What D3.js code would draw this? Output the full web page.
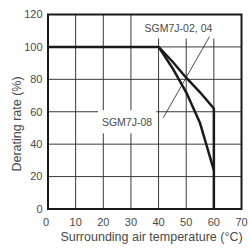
<!DOCTYPE html>
<html>
<head>
<meta charset="utf-8">
<script src="https://cdn.jsdelivr.net/npm/d3@7"></script>
<style>
  body { margin: 0; background: #fff; }
  text { font-family: "Liberation Sans", Arial, sans-serif; fill: #4a4a4a; }
</style>
</head>
<body>
<svg id="chart" width="249" height="250"></svg>
<script>
var tempTicks = [0, 10, 20, 30, 40, 50, 60, 70],
    rateTicks = [0, 20, 40, 60, 80, 100, 120];

// SGM7J-02, 04 curve (ends with the drop at 60 °C)
var temp0204 = [0, 40, 45, 50, 55, 60, 60],
    rate0204 = [100, 100, 91, 81, 72, 62, 0];

// SGM7J-08 curve
var temp08 = [40, 45, 50, 55, 60],
    rate08 = [100, 87, 72, 53, 24];

var labelText = ["SGM7J-02, 04", "SGM7J-08"],
    labelTemp = [47.2, 28.6],
    labelRate = [109.5, 51];

// leader line shared by both labels
var leaderTemp = [58.4, 41.7],
    leaderRate = [106.3, 56.3];

var svg = d3.select("#chart");

var x = d3.scaleLinear().domain([0, 70]).range([48, 241.5]),
    y = d3.scaleLinear().domain([0, 120]).range([209, 14.5]);

// grid
var grid = svg.append("g").attr("class", "grid");
grid.selectAll("line.v").data(tempTicks.slice(1, -1)).enter().append("line")
    .attr("x1", function (d) { return x(d); }).attr("x2", function (d) { return x(d); })
    .attr("y1", y(0)).attr("y2", y(120))
    .attr("stroke", "#3a3a3a").attr("stroke-width", 1);
grid.selectAll("line.h").data(rateTicks.slice(1, -1)).enter().append("line")
    .attr("x1", x(0)).attr("x2", x(70))
    .attr("y1", function (d) { return y(d); }).attr("y2", function (d) { return y(d); })
    .attr("stroke", "#3a3a3a").attr("stroke-width", 1);

// curves
var line = d3.line()
    .x(function (d) { return x(d[0]); })
    .y(function (d) { return y(d[1]); });

svg.append("path")
    .datum(d3.zip(temp08, rate08))
    .attr("d", line)
    .attr("fill", "none").attr("stroke", "#1a1a1a").attr("stroke-width", 2.5)
    .attr("stroke-linejoin", "round");

svg.append("path")
    .datum(d3.zip(temp0204, rate0204))
    .attr("d", line)
    .attr("fill", "none").attr("stroke", "#1a1a1a").attr("stroke-width", 2.5)
    .attr("stroke-linejoin", "round");

// labels with white boxes
var labels = svg.append("g").attr("class", "labels");
labelText.forEach(function (t, i) {
    var g = labels.append("g");
    var rect = g.append("rect").attr("fill", "#fff");
    var txt = g.append("text")
        .attr("x", x(labelTemp[i])).attr("y", y(labelRate[i]))
        .attr("text-anchor", "middle")
        .attr("font-size", "10.5px")
        .text(t);
    var bb = txt.node().getBBox();
    var top = bb.y - 6;
    if (top - y(120) < 8) top = y(120);
    rect.attr("x", bb.x - 4).attr("width", bb.width + 8)
        .attr("y", top).attr("height", bb.y + bb.height + 5 - top);
});

svg.append("line")
    .attr("x1", x(leaderTemp[0])).attr("y1", y(leaderRate[0]))
    .attr("x2", x(leaderTemp[1])).attr("y2", y(leaderRate[1]))
    .attr("stroke", "#222").attr("stroke-width", 0.8);

// frame
svg.append("rect")
    .attr("x", x(0)).attr("y", y(120))
    .attr("width", x(70) - x(0)).attr("height", y(0) - y(120))
    .attr("fill", "none").attr("stroke", "#1a1a1a").attr("stroke-width", 2);

// tick labels
svg.append("g").selectAll("text").data(rateTicks).enter().append("text")
    .attr("x", 42.5).attr("y", function (d) { return y(d); })
    .attr("dy", "0.35em")
    .attr("text-anchor", "end")
    .attr("font-size", "11px")
    .text(function (d) { return d; });

svg.append("g").selectAll("text").data(tempTicks).enter().append("text")
    .attr("x", function (d) { return d === 0 ? x(d) - 2 : x(d); }).attr("y", 225.5)
    .attr("text-anchor", "middle")
    .attr("font-size", "11px")
    .text(function (d) { return d; });

// axis titles
svg.append("text")
    .attr("x", 151.5).attr("y", 240.5)
    .attr("text-anchor", "middle")
    .attr("font-size", "12.5px")
    .text("Surrounding air temperature (°C)");

svg.append("text")
    .attr("transform", "translate(20.5,124)rotate(-90)")
    .attr("text-anchor", "middle")
    .attr("font-size", "12.5px")
    .text("Derating rate (%)");
</script>
</body>
</html>
